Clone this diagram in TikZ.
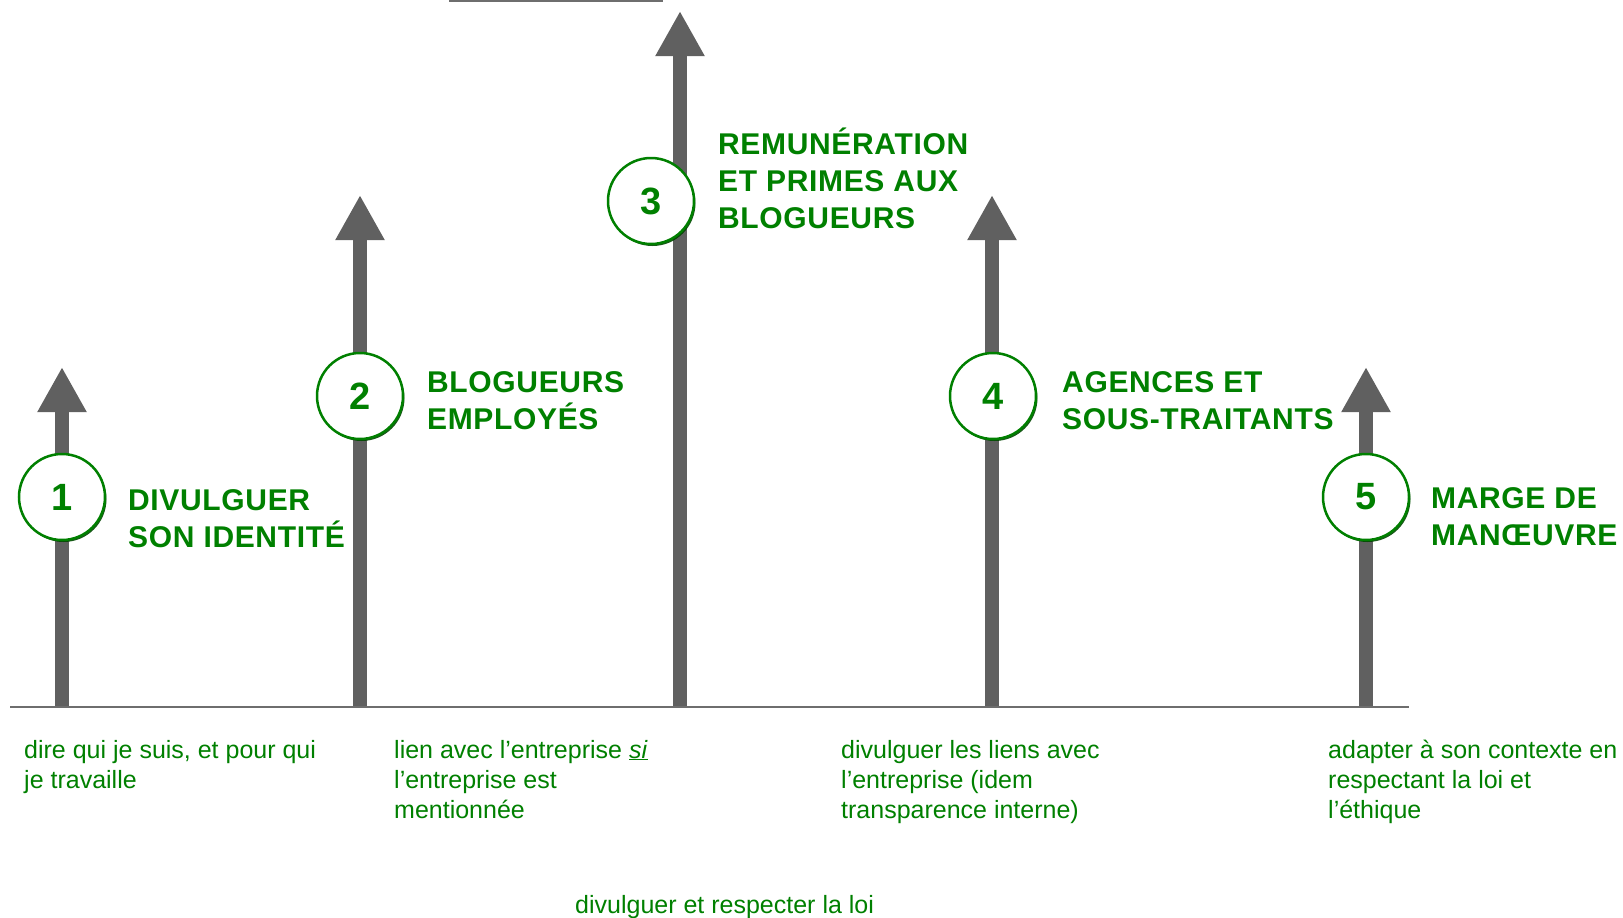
\documentclass[tikz,border=0pt]{standalone}
\usepackage{fontspec}
\setmainfont{Liberation Sans}
\usetikzlibrary{arrows.meta,shadows}
\definecolor{dgreen}{RGB}{0,128,0}
\definecolor{sgreen}{RGB}{0,70,0}
\definecolor{agray}{RGB}{96,96,96}
\definecolor{lgray}{RGB}{110,110,110}
\begin{document}
\begin{tikzpicture}[x=1pt,y=-1pt,
  bar/.style={draw=agray, line width=14pt, -{Triangle[width=46pt,length=45pt]}},
  num/.style={circle, draw=dgreen, line width=2.5pt, fill=white, minimum size=86pt, inner sep=0pt,
    font=\fontsize{38}{38}\selectfont\bfseries, text=dgreen,
    drop shadow={shadow xshift=1.5pt, shadow yshift=-2pt, fill=sgreen, opacity=0.9}},
  head/.style={anchor=base west, align=left, inner sep=0pt, font=\fontsize{30}{37}\selectfont\bfseries\addfontfeatures{LetterSpace=2.2}, text=dgreen},
  body/.style={anchor=base west, align=left, inner sep=0pt, font=\fontsize{25}{30}\selectfont, text=dgreen}]
\useasboundingbox (0,0) rectangle (1623,918);
% top underline (cut-off)
\coordinate (u0) at (449,1);
\coordinate (u1) at (663,1);
\draw[lgray, line width=1.5pt] (u0) -- (u1);
% arrows
\coordinate (b1) at (62,707);   \coordinate (t1) at (62,367);
\coordinate (b2) at (360,707);  \coordinate (t2) at (360,195);
\coordinate (b3) at (680,707);  \coordinate (t3) at (680,11);
\coordinate (b4) at (992,707);  \coordinate (t4) at (992,195);
\coordinate (b5) at (1366,707); \coordinate (t5) at (1366,367);
\draw[bar] (b1) -- (t1);
\draw[bar] (b2) -- (t2);
\draw[bar] (b3) -- (t3);
\draw[bar] (b4) -- (t4);
\draw[bar] (b5) -- (t5);
% base line
\coordinate (L0) at (10,707);
\coordinate (L1) at (1409,707);
\draw[lgray, line width=2pt] (L0) -- (L1);
% circles
\node[num] (c1) at (62,497) {1};
\node[num] (c2) at (360,396) {2};
\node[num] (c3) at (651,201) {3};
\node[num] (c4) at (993,396) {4};
\node[num] (c5) at (1366,497) {5};
% headings (anchored at the baseline of the last line)
\node[head] (h1) at (128,547) {DIVULGUER\\SON IDENTITÉ};
\node[head] (h2) at (427,429) {BLOGUEURS\\EMPLOYÉS};
\node[head] (h3) at (718,228) {REMUNÉRATION\\ET PRIMES AUX\\BLOGUEURS};
\node[head] (h4) at (1062,429) {AGENCES ET\\SOUS-TRAITANTS};
\node[head] (h5) at (1431,545) {MARGE DE\\MANŒUVRE};
% body texts (anchored at the baseline of the last line)
\node[body] (d1) at (24,788) {dire qui je suis, et pour qui\\je travaille};
\node[body] (d2) at (394,818) {lien avec l’entreprise \underline{\textit{si}}\\l’entreprise est\\mentionnée};
\node[body] (d3) at (841,818) {divulguer les liens avec\\l’entreprise (idem\\transparence interne)};
\node[body] (d4) at (1328,818) {adapter à son contexte en\\respectant la loi et\\l’éthique};
\node[body] (d5) at (575,913) {divulguer et respecter la loi};
\end{tikzpicture}
\end{document}
